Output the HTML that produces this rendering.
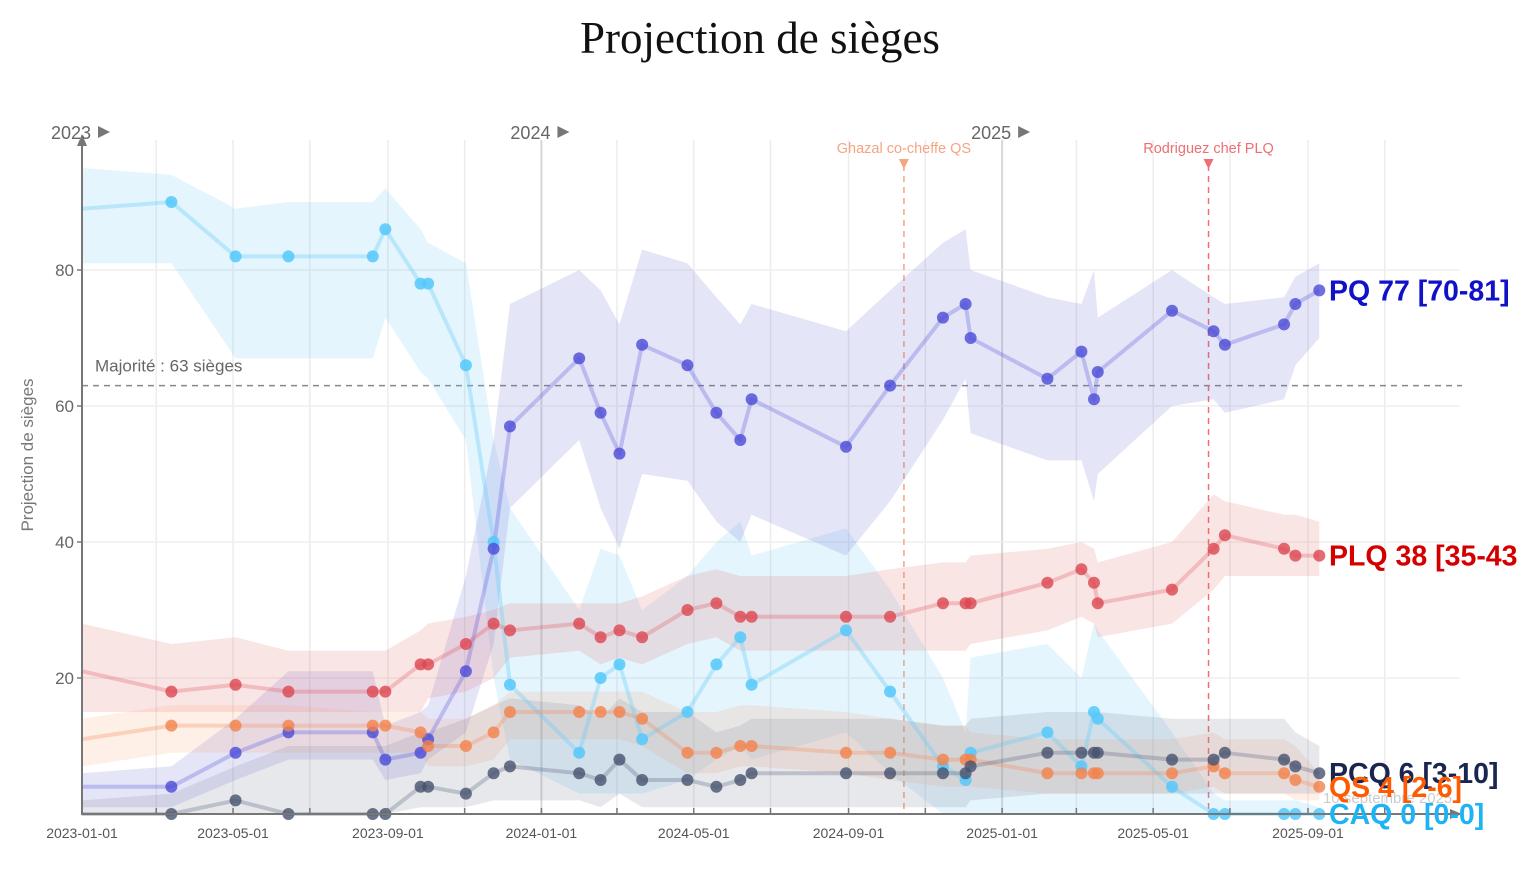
<!DOCTYPE html>
<html><head><meta charset="utf-8">
<style>
html,body{margin:0;padding:0;background:#fff;}
svg{display:block;font-family:"Liberation Sans",sans-serif;}
</style></head>
<body>
<svg id="chart" width="1528" height="876" viewBox="0 0 1528 876" xmlns="http://www.w3.org/2000/svg">
<text x="760" y="53" text-anchor="middle" font-family="Liberation Serif, serif" font-size="45" fill="#111">Projection de sièges</text>
<g id="grid"></g>
<g id="bands"></g>
<g id="lines"></g>
<g id="axes"></g>
<g id="labels"></g>
</svg>
<script>
const dates = ["2023-01-01","2023-03-13","2023-05-03","2023-06-14","2023-08-20","2023-08-30","2023-09-27","2023-10-03","2023-11-02","2023-11-24","2023-12-07","2024-01-31","2024-02-17","2024-03-03","2024-03-21","2024-04-26","2024-05-19","2024-06-07","2024-06-16","2024-08-30","2024-10-04","2024-11-15","2024-12-03","2024-12-07","2025-02-06","2025-03-05","2025-03-15","2025-03-18","2025-05-16","2025-06-18","2025-06-27","2025-08-13","2025-08-22","2025-09-10"];
const caq = [89,90,82,82,82,86,78,78,66,40,19,9,20,22,11,15,22,26,19,27,18,7,5,9,12,7,15,14,4,0,0,0,0,0];
const caqHi = [95,94,89,90,90,92,86,84,81,55,45,30,39,38,30,35,40,43,38,42,33,20,12,23,25,20,28,27,12,3,2,2,2,1];
const caqLo = [81,81,67,67,67,73,65,64,55,20,8,3,3,3,3,5,8,10,8,12,6,0,0,0,0,0,0,0,0,0,0,0,0,0];
const pq = [4,4,9,12,12,8,9,11,21,39,57,67,59,53,69,66,59,55,61,54,63,73,75,70,64,68,61,65,74,71,69,72,75,77];
const pqHi = [6,7,14,21,21,13,15,16,35,55,75,80,77,72,83,81,76,72,75,71,77,84,86,80,76,75,80,73,80,76,75,76,79,81];
const pqLo = [1,1,5,8,8,5,6,8,12,25,45,55,45,39,50,49,43,40,44,38,46,58,64,56,52,52,46,50,60,61,59,61,66,70];
const plq = [21,18,19,18,18,18,22,22,25,28,27,28,26,27,26,30,31,29,29,29,29,31,31,31,34,36,34,31,33,39,41,39,38,38];
const plqHi = [28,25,26,24,24,24,27,28,29,30,31,31,31,31,32,35,36,35,35,35,36,37,37,38,39,40,39,37,40,47,46,44,44,43];
const plqLo = [15,15,15,15,15,15,15,17,18,20,23,24,22,23,22,25,26,24,24,24,24,24,24,25,27,29,28,26,28,33,35,35,35,35];
const qs = [11,13,13,13,13,13,12,10,10,12,15,15,15,15,14,9,9,10,10,9,9,8,8,8,6,6,6,6,6,7,6,6,5,4];
const qsHi = [14,16,16,16,15,15,15,14,14,16,18,18,18,18,18,15,15,16,16,15,14,13,13,12,11,11,11,11,11,12,11,11,10,6];
const qsLo = [7,9,9,9,9,9,9,7,7,8,11,11,11,11,10,6,6,7,7,6,5,4,4,4,3,3,3,3,3,4,3,3,2,2];
const pcq = [0,0,2,0,0,0,4,4,3,6,7,6,5,8,5,5,4,5,6,6,6,6,6,7,9,9,9,9,8,8,9,8,7,6];
const pcqHi = [2,3,7,10,10,10,12,12,14,16,17,16,14,17,15,15,12,13,14,14,14,13,13,14,15,15,15,15,14,14,14,14,12,10];
const pcqLo = [0,0,0,0,0,0,1,1,1,2,2,2,1,3,1,1,1,1,1,1,1,1,1,2,3,3,3,3,3,3,3,3,3,3];
const yTicks = [20,40,60,80];
const xTickLabels = ["2023-01-01","2023-05-01","2023-09-01","2024-01-01","2024-05-01","2024-09-01","2025-01-01","2025-05-01","2025-09-01"];
const yearLabels = ["2023","2024","2025"];
const majority = 63;
const events = [["2024-10-15","Ghazal co-cheffe QS"],["2025-06-14","Rodriguez chef PLQ"]];

const NS="http://www.w3.org/2000/svg";
const t0=Date.UTC(2023,0,1), DAY=86400000, PXD=1.2587, X0=82;
function xs(d){const p=d.split('-').map(Number);return X0+(Date.UTC(p[0],p[1]-1,p[2])-t0)/DAY*PXD;}
function ys(v){return 814-v*6.8;}
function mk(tag,attrs,parent,txt){const e=document.createElementNS(NS,tag);for(const k in attrs)e.setAttribute(k,attrs[k]);if(txt!==undefined)e.textContent=txt;parent.appendChild(e);return e;}
const G=id=>document.getElementById(id);

for(let m=0;m<=34;m+=2){const y=2023+Math.floor(m/12),mo=m%12+1;const ds=y+"-"+String(mo).padStart(2,'0')+"-01";const x=xs(ds);if(x>1462)break;
 const l=mk('line',{x1:x,x2:x,y1:140,y2:814,stroke:mo===1?'#d8d8d8':'#ececec','stroke-width':mo===1?2:1.5},G('grid'));
 
 
 const tk=mk('line',{x1:x,x2:x,y1:808,y2:815,stroke:'#777','stroke-width':1.5},G('axes'));
 
 
}
yTicks.forEach(v=>{const l=mk('line',{x1:82,x2:1460,y1:ys(v),y2:ys(v),stroke:'#efefef','stroke-width':1.5},G('grid'));
 
 
 const t=mk('text',{x:74,y:ys(v)+6,'text-anchor':'end','font-size':17,fill:'#666'},G('axes'),String(v));
 
 
 mk('line',{x1:77,x2:83,y1:ys(v),y2:ys(v),stroke:'#777','stroke-width':1.5},G('axes'));
});
const mj=mk('line',{x1:82,x2:1462,y1:ys(majority),y2:ys(majority),stroke:'#888','stroke-width':1.5,'stroke-dasharray':'6,5'},G('grid'));


const mjt=mk('text',{x:95,y:ys(majority)-14,'font-size':17,fill:'#666'},G('grid'),'Majorité : '+majority+' sièges');


const evCol=['#f5a582','#ee6f72'];
events.forEach((e,i)=>{const x=xs(e[0]);
 const l=mk('line',{x1:x,x2:x,y1:165,y2:814,stroke:evCol[i],'stroke-width':1.5,'stroke-dasharray':'6,5'},G('grid'));
 
 
 mk('path',{d:`M${x-5},159 L${x+5},159 L${x},169 Z`,fill:evCol[i]},G('grid'));
 const t=mk('text',{x:x,y:153,'text-anchor':'middle','font-size':14.5,fill:evCol[i]},G('grid'),e[1]);
 
 
});
const parties=[
 {n:'caq',v:caq,hi:caqHi,lo:caqLo,band:'rgba(100,195,245,0.17)',line:'rgba(100,205,250,0.35)',dot:'rgba(85,200,252,0.85)'},
 {n:'pq',v:pq,hi:pqHi,lo:pqLo,band:'rgba(110,110,215,0.18)',line:'rgba(90,90,220,0.3)',dot:'rgba(75,75,215,0.8)'},
 {n:'plq',v:plq,hi:plqHi,lo:plqLo,band:'rgba(225,100,100,0.17)',line:'rgba(225,90,100,0.3)',dot:'rgba(220,70,80,0.8)'},
 {n:'qs',v:qs,hi:qsHi,lo:qsLo,band:'rgba(250,160,110,0.17)',line:'rgba(245,140,90,0.3)',dot:'rgba(242,130,75,0.8)'},
 {n:'pcq',v:pcq,hi:pcqHi,lo:pcqLo,band:'rgba(110,120,140,0.17)',line:'rgba(90,100,125,0.3)',dot:'rgba(70,82,110,0.8)'}
];
parties.forEach(p=>{
 let d='M'+dates.map((dt,i)=>xs(dt).toFixed(1)+','+ys(p.hi[i]).toFixed(1)).join(' L');
 for(let i=dates.length-1;i>=0;i--)d+=' L'+xs(dates[i]).toFixed(1)+','+ys(p.lo[i]).toFixed(1);
 const b=mk('path',{d:d+' Z',fill:p.band},G('bands'));
 
 
});
parties.forEach(p=>{
 const pts=dates.map((dt,i)=>xs(dt).toFixed(1)+','+ys(p.v[i]).toFixed(1)).join(' ');
 const l=mk('polyline',{points:pts,fill:'none',stroke:p.line,'stroke-width':4,'stroke-linejoin':'round'},G('lines'));
 
 
});
parties.forEach(p=>{
 dates.forEach((dt,i)=>{if(i===0)return;
  const c=mk('circle',{cx:xs(dt),cy:ys(p.v[i]),r:6,fill:p.dot},G('lines'));
  
  
 });
});
mk('line',{x1:82,x2:82,y1:140,y2:815,stroke:'#777','stroke-width':2},G('axes'));
mk('path',{d:'M77,146 L87,146 L82,134 Z',fill:'#777'},G('axes'));
mk('line',{x1:82,x2:1455,y1:814,y2:814,stroke:'#777','stroke-width':2},G('axes'));
mk('path',{d:'M1450,809 L1450,819 L1462,814 Z',fill:'#777'},G('axes'));
xTickLabels.forEach(s=>{const t=mk('text',{x:xs(s),y:838,'text-anchor':'middle','font-size':14,fill:'#555'},G('axes'),s);
 
 });
yearLabels.forEach(y=>{const x=xs(y+'-01-01');const t=mk('text',{x:x-31,y:139,'font-size':18,fill:'#666'},G('axes'),y);
 
 
 mk('path',{d:`M${x+16},126 L${x+16},138 L${x+28},132 Z`,fill:'#777'},G('axes'));});
const yt=mk('text',{x:33,y:455,'text-anchor':'middle','font-size':17,fill:'#777',transform:'rotate(-90 33 455)'},G('axes'),'Projection de sièges');


const dl=mk('text',{x:1323,y:803,'font-size':15,fill:'#ccc'},G('labels'),'10 septembre 2025');


const lab=[['PQ 77 [70-81]','#1111c8',pq],['PLQ 38 [35-43','#d40000',plq],['PCQ 6 [3-10]','#1a2550',pcq],['QS 4 [2-6]','#ff5a00',qs],['CAQ 0 [0-0]','#1db3f5',caq]];
const last=dates.length-1;
lab.forEach(l=>{const t=mk('text',{x:1329,y:ys(l[2][last])+10,'font-size':28.5,'font-weight':'bold',fill:l[1]},G('labels'),l[0]);
 
 });
</script>
</body></html>
